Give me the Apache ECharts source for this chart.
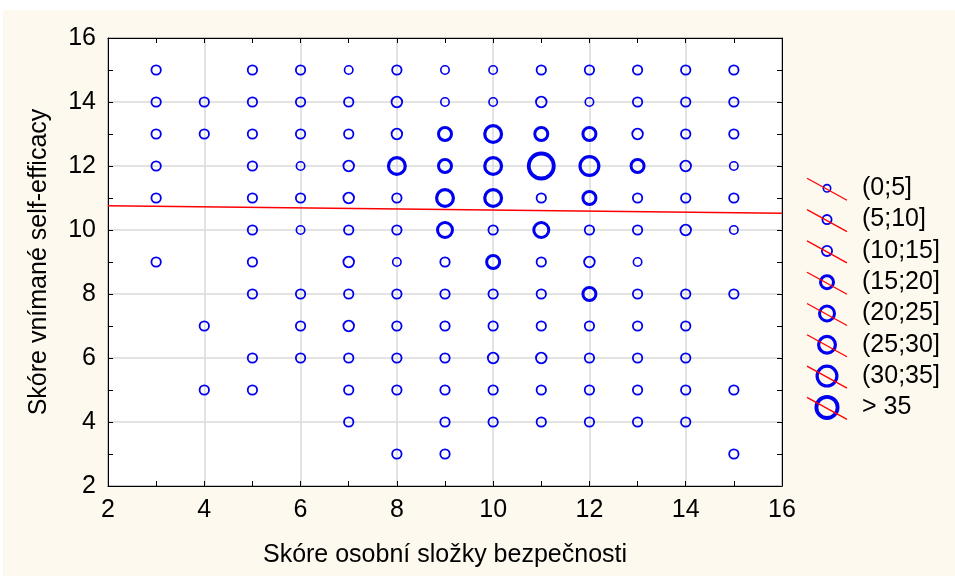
<!DOCTYPE html>
<html>
<head>
<meta charset="utf-8">
<script src="https://cdn.jsdelivr.net/npm/echarts@6/dist/echarts.min.js"></script>
<style>
  html, body { margin: 0; padding: 0; background: #fff; }
  #chart { position: absolute; left: 3px; top: 10px; width: 952px; height: 566px; }
</style>
</head>
<body>
<div id="chart"></div>
<script>
// x = skóre osobní složky bezpečnosti, per column the y scores and frequencies
const scoreX = [3, 4, 5, 6, 7, 8, 9, 10, 11, 12, 13, 14, 15]
const scoreY = [
  [15, 14, 13, 12, 11, 9],
  [14, 13, 7, 5],
  [15, 14, 13, 12, 11, 10, 9, 8, 6, 5],
  [15, 14, 13, 12, 11, 10, 8, 7, 6],
  [15, 14, 13, 12, 11, 10, 9, 8, 7, 6, 5, 4],
  [15, 14, 13, 12, 11, 10, 9, 8, 7, 6, 5, 3],
  [15, 14, 13, 12, 11, 10, 9, 8, 7, 6, 5, 4, 3],
  [15, 14, 13, 12, 11, 10, 9, 8, 7, 6, 5, 4],
  [15, 14, 13, 12, 11, 10, 9, 8, 7, 6, 5, 4],
  [15, 14, 13, 12, 11, 10, 9, 8, 7, 6, 5, 4],
  [15, 14, 13, 12, 11, 10, 9, 8, 7, 6, 5, 4],
  [15, 14, 13, 12, 11, 10, 8, 7, 6, 5, 4],
  [15, 14, 13, 12, 11, 10, 8, 5, 3]
]
const counts = [
  [7, 7, 7, 7, 7, 7],
  [7, 7, 7, 7],
  [7, 7, 7, 7, 7, 7, 7, 7, 7, 7],
  [7, 7, 7, 3, 7, 3, 7, 7, 7],
  [3, 7, 7, 12, 12, 7, 12, 7, 12, 7, 7, 7],
  [7, 12, 12, 28, 7, 7, 3, 7, 7, 7, 7, 7],
  [3, 3, 18, 18, 28, 23, 7, 7, 7, 7, 7, 7, 7],
  [3, 3, 28, 28, 28, 7, 18, 7, 7, 12, 7, 7],
  [7, 12, 18, 40, 7, 23, 7, 7, 7, 12, 7, 7],
  [7, 3, 18, 33, 18, 7, 12, 18, 7, 7, 7, 7],
  [7, 7, 12, 18, 7, 7, 3, 7, 7, 7, 7, 7],
  [7, 7, 7, 12, 7, 12, 7, 7, 7, 7, 7],
  [7, 7, 7, 3, 7, 3, 7, 7, 7]
]
// linear fit line
const fitX = [2, 16]
const fitY = [10.76, 10.52]

const binUpper = [5, 10, 15, 20, 25, 30, 35]
const binLabels = ['(0;5]', '(5;10]', '(10;15]', '(15;20]', '(20;25]', '(25;30]', '(30;35]', '> 35']

const blue = '#0000F0'
const symSizes = [8.4, 9.4, 10.6, 13, 15, 16.8, 18.8, 25]
const symWidths = [1.6, 1.8, 1.8, 3, 3, 3.2, 3.2, 3.8]
const legSizes = [7.4, 9.2, 10.2, 13, 15, 16.8, 19.8, 21.2]

function binOf(n) {
  for (let i = 0; i < binUpper.length; i++) {
    if (n <= binUpper[i]) return i
  }
  return binUpper.length
}

const points = []
scoreX.forEach((x, i) => {
  scoreY[i].forEach((y, j) => {
    const b = binOf(counts[i][j])
    points.push({
      value: [x, y, counts[i][j]],
      symbolSize: symSizes[b],
      itemStyle: { borderWidth: symWidths[b] }
    })
  })
})

const font = 'Liberation Sans, Arial, sans-serif'

// legend drawn by hand: red line through each circle
const legendItems = []
binLabels.forEach((label, i) => {
  const cy = 178.3 + i * 31.3
  legendItems.push({
    type: 'circle',
    shape: { cx: 824, cy: cy, r: legSizes[i] / 2 },
    style: { fill: 'none', stroke: blue, lineWidth: symWidths[i] }
  })
  legendItems.push({
    type: 'line',
    shape: { x1: 804, y1: cy - 10, x2: 844, y2: cy + 12 },
    style: { stroke: '#ff0000', lineWidth: 1.3 }
  })
  legendItems.push({
    type: 'text',
    x: 859,
    y: cy,
    style: { text: label, font: '25px ' + font, fill: '#000', verticalAlign: 'middle' }
  })
})

function sideAxis(pos) {
  return {
    type: 'value',
    position: pos,
    min: 2,
    max: 16,
    interval: 2,
    axisLine: { show: true, onZero: false, lineStyle: { color: '#000', width: 1 } },
    axisTick: { show: true, inside: true, length: 5, lineStyle: { color: '#000' } },
    minorTick: { show: true, splitNumber: 2, length: 5, lineStyle: { color: '#000' } },
    axisLabel: { show: false },
    splitLine: { show: false }
  }
}

const chart = echarts.init(document.getElementById('chart'))
chart.setOption({
  backgroundColor: '#FDF9EE',
  animation: false,
  grid: {
    left: 105,
    right: 173,
    top: 28,
    bottom: 90,
    show: true,
    backgroundColor: '#fff',
    borderColor: '#000',
    borderWidth: 1
  },
  xAxis: [
    {
      type: 'value',
      min: 2,
      max: 16,
      interval: 2,
      name: 'Skóre osobní složky bezpečnosti',
      nameLocation: 'middle',
      nameGap: 57,
      nameTextStyle: { fontSize: 25, color: '#000', fontFamily: font },
      axisLine: { show: true, onZero: false, lineStyle: { color: '#000', width: 1 } },
      axisTick: { show: true, inside: true, length: 5, lineStyle: { color: '#000' } },
      minorTick: { show: true, splitNumber: 2, length: 5, lineStyle: { color: '#000' } },
      axisLabel: { fontSize: 25, color: '#000', fontFamily: font, margin: 12 },
      splitLine: { show: true, lineStyle: { color: '#DADADA', width: 1.5 } }
    },
    sideAxis('top')
  ],
  yAxis: [
    {
      type: 'value',
      min: 2,
      max: 16,
      interval: 2,
      name: 'Skóre vnímané self-efficacy',
      nameLocation: 'middle',
      nameGap: 56,
      nameTextStyle: { fontSize: 25, color: '#000', fontFamily: font },
      axisLine: { show: true, onZero: false, lineStyle: { color: '#000', width: 1 } },
      axisTick: { show: true, inside: true, length: 5, lineStyle: { color: '#000' } },
      minorTick: { show: true, splitNumber: 2, length: 5, lineStyle: { color: '#000' } },
      axisLabel: { fontSize: 25, color: '#000', fontFamily: font, margin: 12 },
      splitLine: { show: true, lineStyle: { color: '#DADADA', width: 1.5 } }
    },
    sideAxis('right')
  ],
  graphic: legendItems,
  series: [
    {
      type: 'scatter',
      data: points,
      symbol: 'circle',
      itemStyle: { color: 'rgba(0,0,0,0)', borderColor: blue, opacity: 1 },
      emphasis: { disabled: true }
    },
    {
      type: 'line',
      data: fitX.map((x, i) => [x, fitY[i]]),
      showSymbol: false,
      lineStyle: { color: '#ff0000', width: 1.5 },
      z: 3
    }
  ]
})
</script>
</body>
</html>
